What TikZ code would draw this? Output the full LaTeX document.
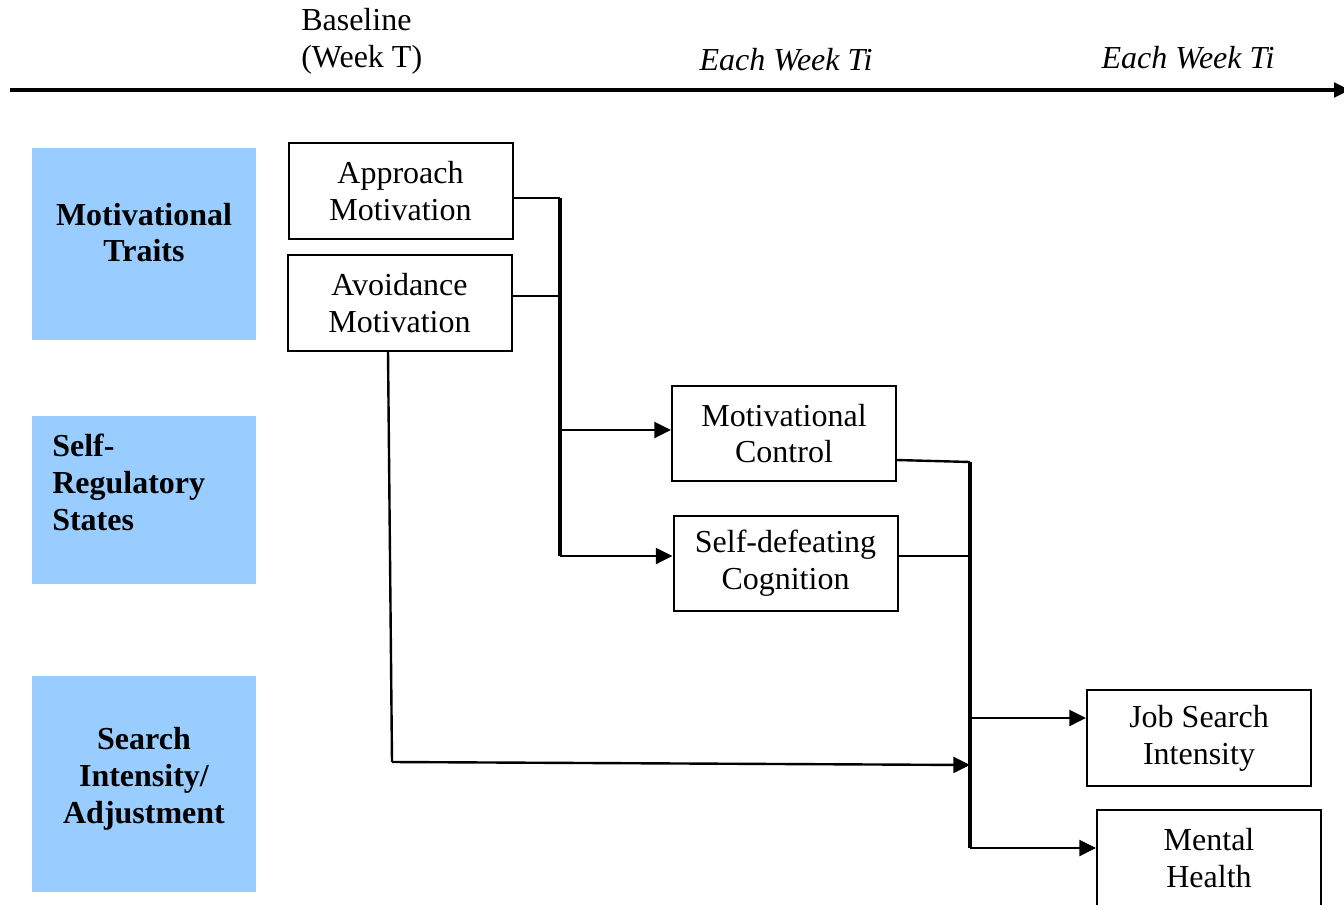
\documentclass[tikz,border=0pt]{standalone}
\usepackage{fontspec}
\setmainfont{Liberation Serif}
\usetikzlibrary{arrows.meta}
\definecolor{lblue}{HTML}{99CCFF}
\begin{document}
\begin{tikzpicture}[x=0.75pt,y=-0.75pt,
  every node/.style={font=\fontsize{24}{27.6}\selectfont, inner sep=0pt},
  varbox/.style={draw=black, line width=1.5pt, fill=white, minimum width=168pt, minimum height=71.5pt, align=center},
  bluebox/.style={fill=lblue, minimum width=168pt},
  bluetext/.style={font=\fontsize{24}{27.6}\selectfont\bfseries},
  conn/.style={line width=1.8pt},
  bus/.style={line width=2.4pt},
  arr/.style={line width=1.8pt, -{Triangle[length=12.5pt,width=12pt]}}
]
\useasboundingbox (0,0) rectangle (1344,905);
\clip (0,0) rectangle (1344,905);

% time axis
\coordinate (axL) at (10,90);
\coordinate (axR) at (1350,90);
\draw[line width=2.4pt, -{Triangle[length=12pt,width=11pt]}] (axL) -- (axR);
\node[anchor=west, align=left] (base) at (301,41.5) {Baseline\\(Week T)};
\node[font=\fontsize{24}{27.6}\selectfont\itshape] (wk1) at (786,60) {Each Week Ti};
\node[font=\fontsize{24}{27.6}\selectfont\itshape] (wk2) at (1188,58) {Each Week Ti};

% blue category boxes
\node[bluebox, minimum height=144pt] (b1) at (144,244) {};
\node[bluebox, minimum height=126pt] (b2) at (144,500) {};
\node[bluebox, minimum height=162pt] (b3) at (144,784) {};
\node[bluetext, align=center] (t1) at (144,232.5) {Motivational\\Traits};
\node[bluetext, align=left, anchor=west] (t2) at (52,482.5) {Self-\\Regulatory\\States};
\node[bluetext, align=center] (t3) at (144,779) {Search\\Intensity/\\Adjustment};

% variable boxes
\node[varbox] (ap) at (400.5,191) {Approach\\Motivation};
\node[varbox] (av) at (399.5,303) {Avoidance\\Motivation};
\node[varbox] (mc) at (784,433.5) {Motivational\\Control};
\node[varbox] (sd) at (785.5,563.5) {Self-defeating\\Cognition};
\node[varbox] (js) at (1199,738) {Job Search\\Intensity};
\node[varbox] (mh) at (1209,858) {Mental\\Health};

% first bus
\coordinate (j1a) at (560,198);
\coordinate (j1b) at (560,296);
\coordinate (j1c) at (560,430);
\coordinate (j1d) at (560,556);
\draw[conn] (ap.east |- j1a) -- (j1a);
\draw[conn] (av.east |- j1b) -- (j1b);
\draw[bus] (j1a) -- (j1d);
\draw[arr] (j1c) -- (mc.west |- j1c);
\draw[arr] (j1d) -- (sd.west |- j1d);

% second bus
\coordinate (j2a) at (970,462);
\coordinate (j2b) at (970,556);
\coordinate (j2c) at (970,718);
\coordinate (j2d) at (970,848);
\coordinate (j2e) at (970,765);
\draw[conn] (896,460) -- (j2a);
\draw[conn] (sd.east |- j2b) -- (j2b);
\draw[bus] (j2a) -- (j2d);
\draw[arr] (j2c) -- (js.west |- j2c);
\draw[arr] (j2d) -- (mh.west |- j2d);

% avoidance direct path
\coordinate (avb) at (388,351);
\coordinate (bend) at (392,762);
\draw[conn] (avb) -- (bend);
\draw[arr] (bend) -- (j2e);
\end{tikzpicture}
\end{document}
